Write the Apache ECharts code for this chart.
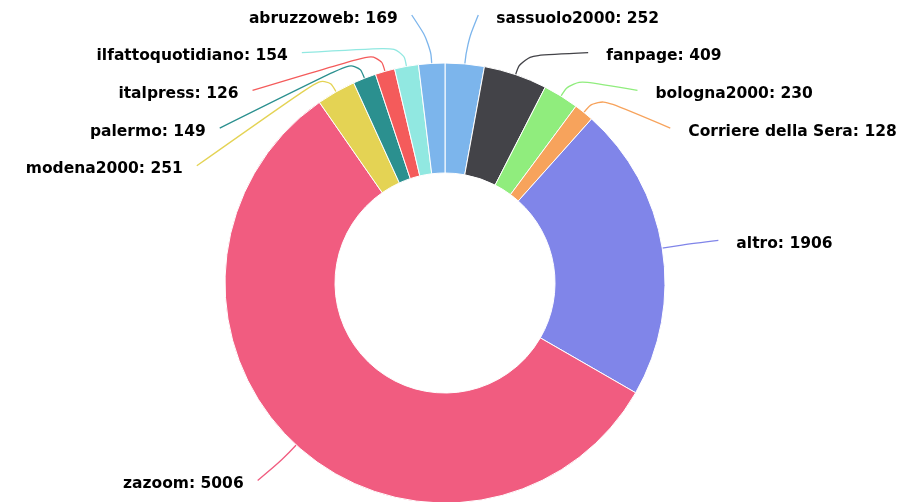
<!DOCTYPE html>
<html>
<head>
<meta charset="utf-8">
<script src="https://cdn.jsdelivr.net/npm/echarts@6/dist/echarts.min.js"></script>
<style>
html,body{margin:0;padding:0;background:#fff;}
#chart{width:919px;height:502px;}
</style>
</head>
<body>
<div id="chart"></div>
<script>
const categories = ['sassuolo2000', 'fanpage', 'bologna2000', 'Corriere della Sera', 'altro', 'zazoom', 'modena2000', 'palermo', 'italpress', 'ilfattoquotidiano', 'abruzzoweb'];
const values = [252, 409, 230, 128, 1906, 5006, 251, 149, 126, 154, 169];
const palette = ['#7cb5ec', '#434348', '#90ed7d', '#f7a35c', '#8085e9', '#f15c80', '#e4d354', '#2b908f', '#f45b5b', '#91e8e1', '#7cb5ec'];

// geometry
const CX = 445, CY = 283, R_IN = 110, R_OUT = 220;
const LABEL_R = 268;   // natural label distance
const LX = 278;        // horizontal label circle
const GAP = 37.7;      // min vertical spacing of labels
const TOP_Y = 15;

// Highcharts-like label distribution, computed from the data
const total = values.reduce((s, v) => s + v, 0);
let acc = 0;
const items = values.map((v, i) => {
  const mid = (acc + v / 2) / total * 2 * Math.PI;
  acc += v;
  return { i, mid, sin: Math.sin(mid), cos: Math.cos(mid), right: mid < Math.PI, target: CY - LABEL_R * Math.cos(mid) };
});

function distribute(list, minY, maxY, gap) {
  list.sort((a, b) => a.target - b.target);
  const groups = list.map(it => ({ members: [it] }));
  const place = g => {
    const n = g.members.length;
    const mean = g.members.reduce((s, m) => s + m.target, 0) / n;
    let start = mean - (n - 1) * gap / 2;
    start = Math.max(minY, Math.min(start, maxY - (n - 1) * gap));
    g.start = start; g.end = start + (n - 1) * gap;
  };
  groups.forEach(place);
  let merged = true;
  while (merged) {
    merged = false;
    for (let k = 0; k < groups.length - 1; k++) {
      if (groups[k].end + gap > groups[k + 1].start) {
        groups[k].members = groups[k].members.concat(groups[k + 1].members);
        groups.splice(k + 1, 1);
        place(groups[k]);
        merged = true;
        break;
      }
    }
  }
  groups.forEach(g => g.members.forEach((m, j) => { m.y = g.start + j * gap; }));
}
distribute(items.filter(it => it.right), TOP_Y, 600, GAP);
distribute(items.filter(it => !it.right), TOP_Y, 600, GAP);

const layoutByIndex = {};
items.forEach(it => {
  const sgn = it.y < CY ? -1 : 1;
  const yEff = it.y + sgn * 8 - CY;
  const dx = Math.sqrt(Math.max(0, LX * LX - yEff * yEff));
  const xConn = it.right ? CX + dx : CX - dx;
  const touch = [CX + R_OUT * it.sin, CY - R_OUT * it.cos];
  const bend = [CX + (R_OUT + 20) * it.sin, CY - (R_OUT + 20) * it.cos];
  layoutByIndex[it.i] = {
    x: it.right ? xConn + 18 : xConn - 14,
    y: it.y + 3.5,
    align: it.right ? 'left' : 'right',
    verticalAlign: 'middle',
    labelLinePoints: [touch, bend, [xConn, it.y]]
  };
});

const chart = echarts.init(document.getElementById('chart'), null, { renderer: 'canvas' });
chart.setOption({
  animation: false,
  backgroundColor: '#ffffff',
  color: palette,
  series: [{
    type: 'pie',
    center: [CX, CY],
    radius: [R_IN, R_OUT],
    startAngle: 90,
    clockwise: true,
    avoidLabelOverlap: false,
    data: categories.map((c, i) => ({ name: c, value: values[i], itemStyle: { color: palette[i] } })),
    itemStyle: { borderColor: '#ffffff', borderWidth: 1 },
    emphasis: { disabled: true },
    label: {
      show: true,
      position: 'outside',
      formatter: '{b}: {c}',
      fontFamily: 'DejaVu Sans',
      fontWeight: 'bold',
      fontSize: 15.5,
      color: '#000000'
    },
    labelLine: { show: true, smooth: 0.5, length: 20, length2: 20, lineStyle: { width: 1.3 } },
    labelLayout: function (params) {
      return layoutByIndex[params.dataIndex];
    }
  }]
});
</script>
</body>
</html>
